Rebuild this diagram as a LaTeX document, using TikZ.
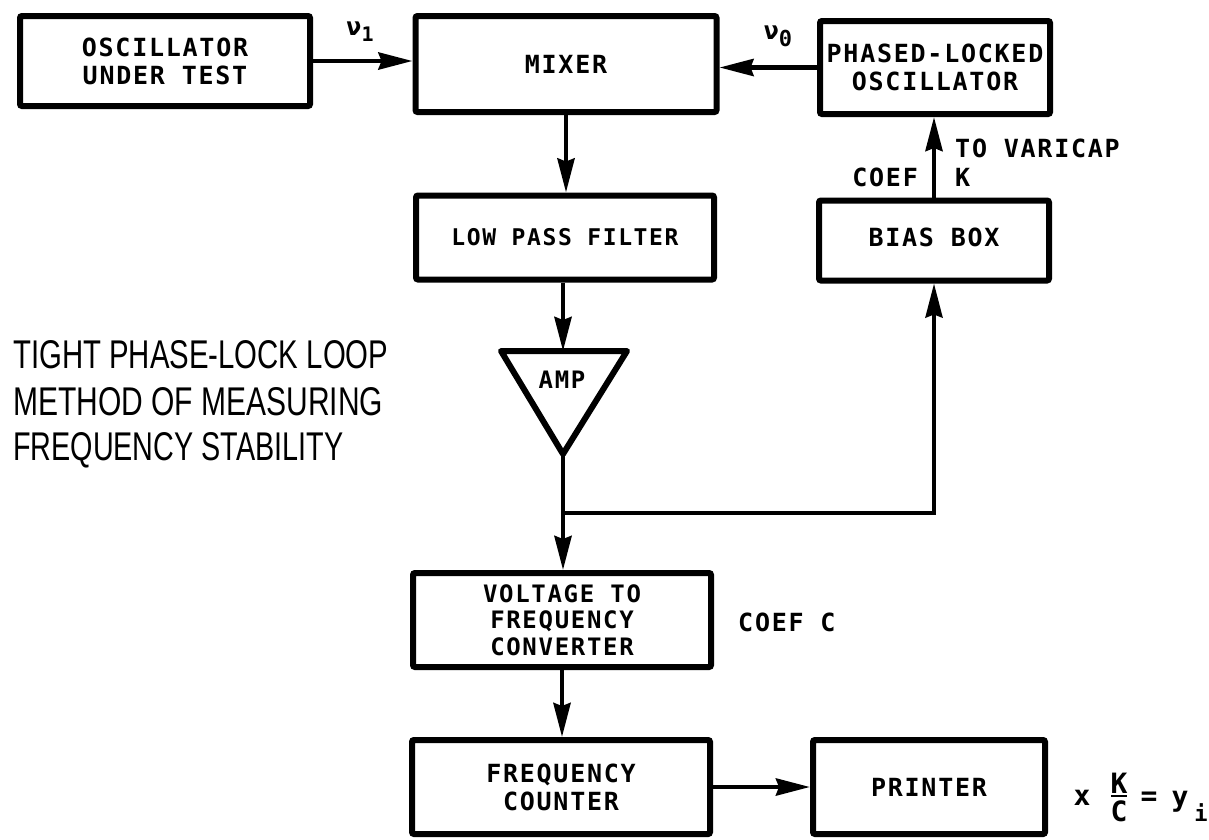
\documentclass[tikz,border=0pt]{standalone}
\usepackage{fontspec}
\usepackage{graphicx}
\newfontfamily\boxfont{DejaVu Sans Mono}[LetterSpace=7]
\newfontfamily\titlefont{Liberation Sans}
\usetikzlibrary{arrows.meta,calc}
\begin{document}
\begin{tikzpicture}[x=1pt,y=-1pt,
  blk/.style={draw, line width=6pt, rounded corners=2pt, inner sep=0pt, align=center,
    font=\boxfont\bfseries\fontsize{25}{28}\selectfont},
  wire/.style={line width=4.5pt},
  arr/.style={wire, -{Stealth[length=34pt,width=17pt,inset=3pt]}},
  lbl/.style={inner sep=0pt, font=\boxfont\bfseries\fontsize{25}{28}\selectfont},
  fml/.style={inner sep=0pt, font=\boxfont\bfseries\fontsize{28}{28}\selectfont},
  ttl/.style={inner sep=0pt, anchor=base west, font=\titlefont}]
\useasboundingbox (0,0) rectangle (1209,839);

% blocks
\node[blk, minimum width=290pt, minimum height=90pt] (osc) at (165,61) {OSCILLATOR\\UNDER TEST};
\node[blk, minimum width=301pt, minimum height=96pt] (mixer) at (566,64) {MIXER};
\node[blk, minimum width=230pt, minimum height=93pt] (plo) at (935,67.5) {PHASED-LOCKED\\OSCILLATOR};
\node[blk, minimum width=298pt, minimum height=84pt, font=\boxfont\bfseries\fontsize{23}{26}\selectfont] (lpf) at (565,237.5) {LOW PASS FILTER};
\node[blk, minimum width=230pt, minimum height=80pt] (bias) at (934,240.5) {\raisebox{7pt}{BIAS BOX}};
\node[blk, minimum width=298pt, minimum height=94pt, font=\boxfont\bfseries\fontsize{24}{26.5}\selectfont] (vfc) at (562,620) {VOLTAGE TO\\FREQUENCY\\CONVERTER};
\node[blk, minimum width=298pt, minimum height=94pt] (fc) at (561,787) {FREQUENCY\\COUNTER};
\node[blk, minimum width=232pt, minimum height=94pt] (printer) at (929,787) {PRINTER};

% amplifier triangle
\coordinate (ampL) at (501,351);
\coordinate (ampR) at (627,351);
\coordinate (ampB) at (563,454);
\coordinate (ampT) at (563,351);
\draw[line width=6pt, line join=round] (ampL) -- (ampR) -- (ampB) -- cycle;
\node[lbl, font=\boxfont\bfseries\fontsize{24}{26}\selectfont] (amp) at (562,380) {AMP};
\coordinate (junc) at (563,513);

% connectors
\draw[arr] (osc.east) -- (osc.east -| mixer.west);
\draw[arr] (plo.west) -- (plo.west -| mixer.east);
\draw[arr] (mixer.south) -- (mixer.south |- lpf.north);
\draw[arr] (lpf.south -| ampT) -- (ampT);
\draw[wire] (ampB) -- (junc);
\draw[arr] (junc) -- (junc |- vfc.north);
\draw[arr, line width=4pt] (junc) -| (bias.south);
\draw[arr] (bias.north) -- (bias.north |- plo.south);
\draw[arr] (vfc.south) -- (vfc.south |- fc.north);
\draw[arr] (fc.east) -- (fc.east -| printer.west);

% labels
\node[lbl] (nu1) at (360,32) {ν\raisebox{-6pt}{\fontsize{20}{20}\selectfont 1}};
\node[lbl] (nu0) at (778,36) {ν\raisebox{-7pt}{\fontsize{22}{22}\selectfont 0}};
\node[lbl, anchor=west] (varicap) at (955,148) {TO VARICAP};
\node[lbl, anchor=east] (coefk) at (918,177) {COEF};
\node[lbl, anchor=west] (kk) at (955,177) {K};
\node[lbl, anchor=west] (coefc) at (738,622) {COEF C};

% formula  x K/C = y_i
\node[fml] (fx) at (1082,798) {x};
\node[fml] (fk) at (1119,783) {K};
\node[fml] (fcc) at (1119,811) {C};
\draw[line width=2.5pt] (1111,796) -- (1127,796);
\node[fml] (feq) at (1149,799) {=};
\node[fml] (fy) at (1180,802) {y};
\node[fml, font=\boxfont\bfseries\fontsize{22}{22}\selectfont] (fi) at (1201,813) {i};

% title
\node[ttl] (t1) at (13,368) {\resizebox{375pt}{28pt}{TIGHT PHASE-LOCK LOOP}};
\node[ttl] (t2) at (13,415) {\resizebox{370pt}{28pt}{METHOD OF MEASURING}};
\node[ttl] (t3) at (13,460) {\resizebox{330pt}{28pt}{FREQUENCY STABILITY}};
\end{tikzpicture}
\end{document}
